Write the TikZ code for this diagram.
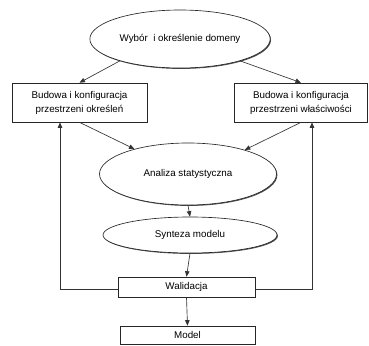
\documentclass[tikz,border=0pt]{standalone}
\usepackage{fontspec}
\setmainfont{Liberation Sans}
\usetikzlibrary{shapes.geometric,arrows.meta,shadows}

\begin{document}
\begin{tikzpicture}[x=1pt,y=-1pt,
        every node/.style={font=\fontsize{9.8}{14}\selectfont, align=center, draw=black!85, line width=0.65pt},
        etap/.style={ellipse, fill=white, drop shadow={shadow xshift=0.9pt, shadow yshift=-0.9pt, opacity=0.7, fill=black}},
        krok/.style={rectangle, fill=white},
        strz/.style={draw=black!80, line width=0.65pt, -{Triangle[length=5.5pt,width=4.5pt]}}]
        \def\lewyx{60}
        \def\prawyx{312}
        \useasboundingbox (0,0) rectangle (369,345);

        %Nodes
        \node[etap, minimum width=157, minimum height=58] (dom) at (180,39) {Wybór \ i określenie domeny};
        \node[krok, minimum width=135, minimum height=39] (lewy) at (79.5,102.5) {Budowa i konfiguracja\\przestrzeni określeń};
        \node[krok, minimum width=133, minimum height=39] (prawy) at (301,102.5) {Budowa i konfiguracja\\przestrzeni właściwości};
        \node[etap, minimum width=177, minimum height=62] (analiza) at (188,174) {Analiza statystyczna};
        \node[etap, minimum width=174, minimum height=36] (synteza) at (190,235) {Synteza modelu};
        \node[krok, minimum width=137, minimum height=20] (walid) at (186.5,287) {Walidacja};
        \node[krok, minimum width=135, minimum height=18] (model) at (187.5,335) {Model};
        \coordinate (L) at (\lewyx,0);
        \coordinate (R) at (\prawyx,0);

        %Arrows
        \draw[strz] (dom.200) -- (lewy.north);
        \draw[strz] (dom.-20) -- (prawy.north);
        \draw[strz] (lewy.south) -- (analiza.155);
        \draw[strz] (prawy.south) -- (analiza.23);
        \draw[strz] (analiza.south) -- (synteza.north);
        \draw[strz] (synteza.south) -- (walid.north);
        \draw[strz] (walid.south) -- (model.north);

        %Feedback
        \draw[strz] ([yshift=-2]walid.west) -| (lewy.south -| L);
        \draw[strz] ([yshift=-2]walid.east) -| (prawy.south -| R);
    \end{tikzpicture}
\end{document}
